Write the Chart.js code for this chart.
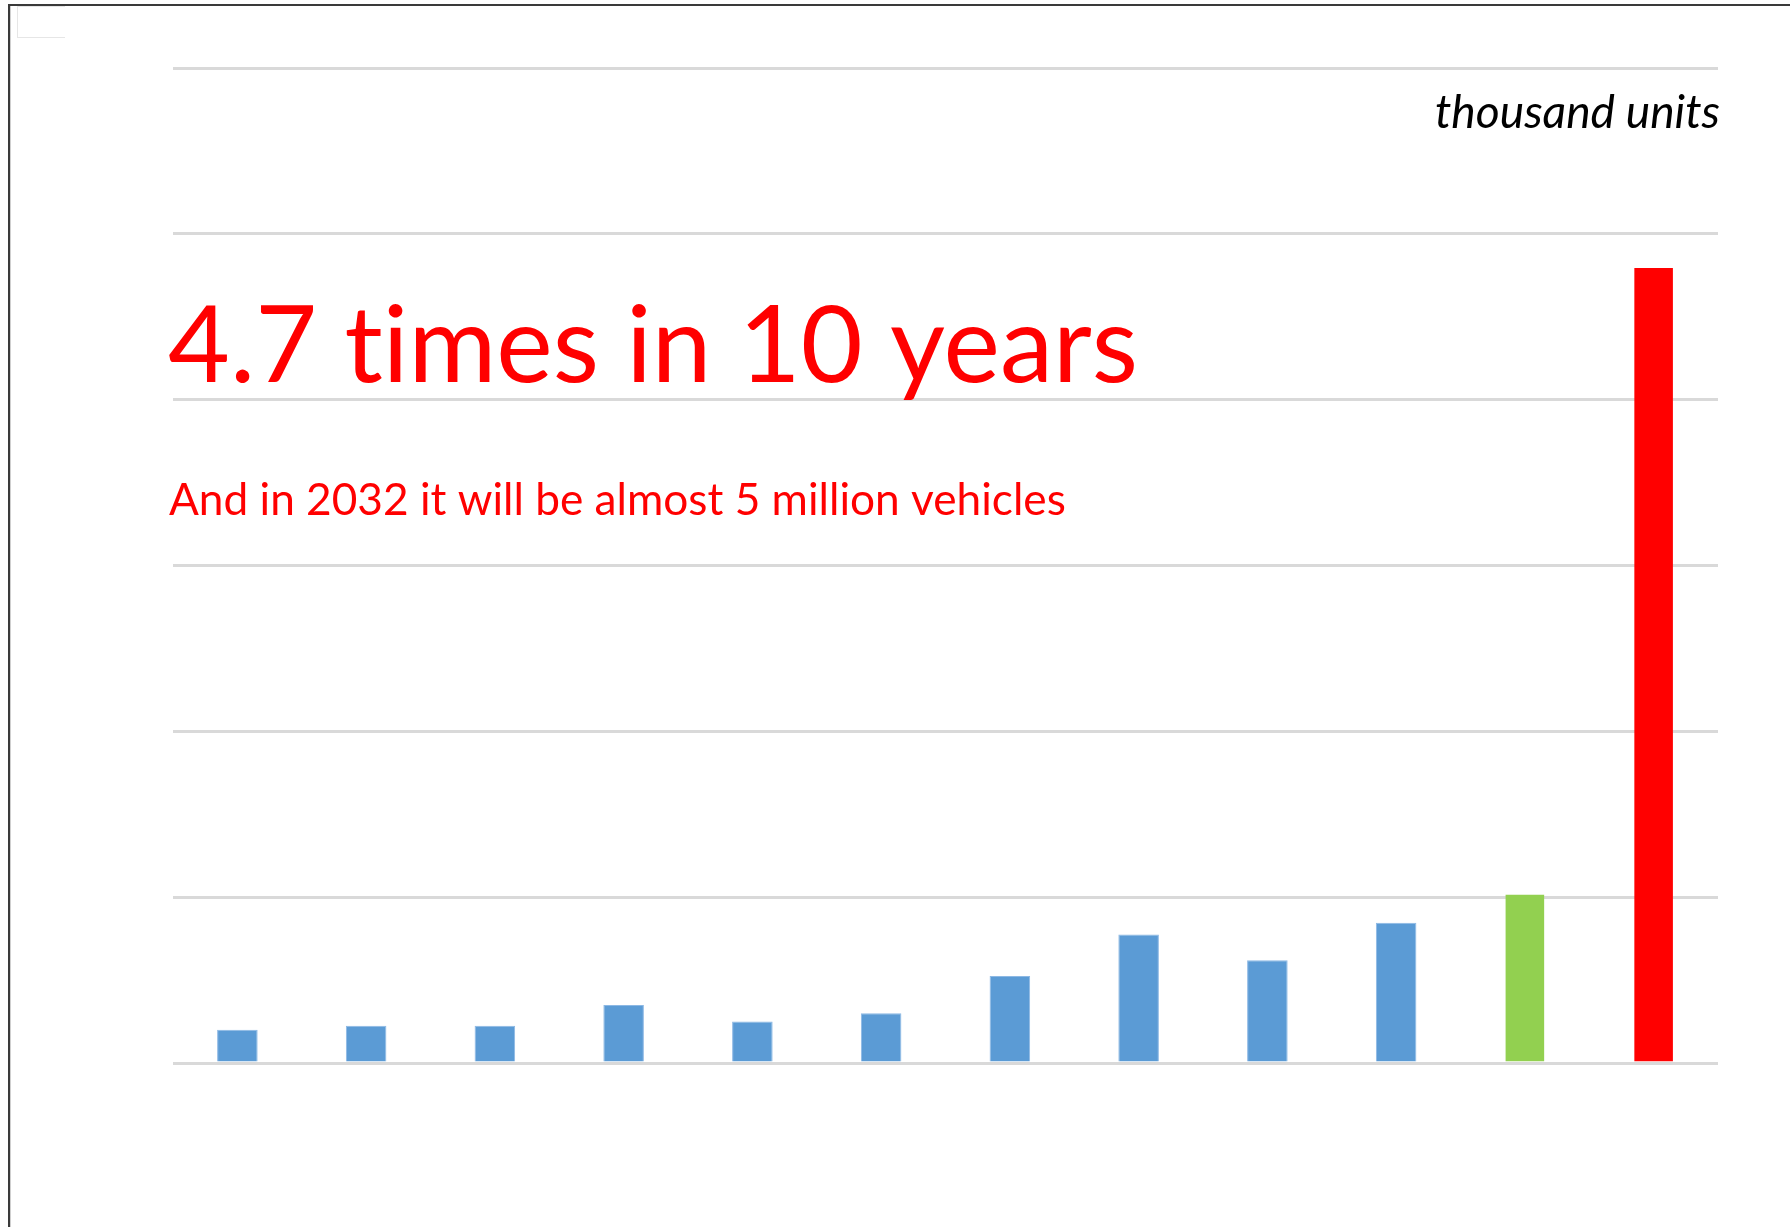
<!DOCTYPE html>
<html>
<head>
<meta charset="utf-8">
<title>Sales growth</title>
<script src="https://cdn.jsdelivr.net/npm/chart.js@4"></script>
<style>
  html, body { margin: 0; padding: 0; background: #fff; }
  #wrap { position: relative; width: 1790px; height: 1227px; overflow: hidden; }
  /* frame lines along the top and left edge */
  #frame {
    position: absolute; left: 8px; top: 4px; right: 0; bottom: 0;
    border-top: 2px solid #3a3a3a; border-left: 2px solid #3a3a3a;
    box-shadow: inset 1px 0 0 #cfcfcf;
  }
  #tab {
    position: absolute; left: 17px; top: 6px; width: 47px; height: 30px;
    border: 1px solid #e6e6e6; border-right: none;
  }
  canvas { position: absolute; left: 0; top: 0; }
</style>
</head>
<body>
<div id="wrap">
  <div id="frame"></div>
  <div id="tab"></div>
  <canvas id="myChart" width="1790" height="1227"></canvas>
</div>
<script>
// Years on the category axis (labels are not shown)
const years = ["2012", "2013", "2014", "2015", "2016", "2017", "2018", "2019", "2020", "2021", "2022", "2032"];

// Sales, thousand units
const sales = [200, 225, 225, 350, 250, 300, 525, 775, 620, 845, 1020, 4800];

// Value axis ticks
const yTicks = [0, 1000, 2000, 3000, 4000, 5000, 6000];

const titleText = "4.7 times in 10 years";
const subtitleText = "And in 2032 it will be almost 5 million vehicles";
const unitText = "thousand units";

// Current year in green, the forecast in red, the rest in blue
const barColors = years.map(y => y === "2022" ? "#92d050" : y === "2032" ? "#ff0000" : "#5b9bd5");
const barEdges = years.map(y => y === "2022" || y === "2032" ? "rgba(0,0,0,0)" : "#8cb8e4");

const FONT = "Lato, 'Open Sans', sans-serif";

// Size a font so that the text spans the given width
function fitSize(ctx, text, style, width) {
  ctx.font = `${style} 100px ${FONT}`;
  return 100 * width / ctx.measureText(text).width;
}

const captions = {
  id: "captions",
  afterDraw(chart) {
    const ctx = chart.ctx;
    const area = chart.chartArea;
    ctx.save();
    ctx.textBaseline = "alphabetic";
    // no "ti" ligature
    if ("textRendering" in ctx) ctx.textRendering = "optimizeSpeed";

    ctx.fillStyle = "#ff0000";
    ctx.textAlign = "left";
    let size = fitSize(ctx, titleText, "normal", 970);
    ctx.font = `normal ${size}px ${FONT}`;
    ctx.fillText(titleText, area.left - 5, 382);

    size = fitSize(ctx, subtitleText, "normal", 897);
    ctx.font = `normal ${size}px ${FONT}`;
    ctx.fillText(subtitleText, area.left - 4, 515);

    ctx.fillStyle = "#000";
    ctx.textAlign = "right";
    size = fitSize(ctx, unitText, "italic", 285);
    ctx.font = `italic ${size}px ${FONT}`;
    ctx.fillText(unitText, area.right + 2, 128);
    ctx.restore();
  }
};

const ctx = document.getElementById("myChart").getContext("2d");

const myChart = new Chart(ctx, {
  type: "bar",
  data: {
    labels: years,
    datasets: [
      {
        label: unitText,
        data: sales,
        backgroundColor: barColors,
        borderColor: barEdges,
        borderWidth: 1,
        borderSkipped: "bottom",
        categoryPercentage: 1,
        barPercentage: 0.315,
      },
    ],
  },
  options: {
    responsive: false,
    animation: false,
    layout: {
      padding: { left: 173, right: 72, top: 68, bottom: 164 },
    },
    plugins: {
      legend: { display: false },
      tooltip: { enabled: false },
    },
    scales: {
      x: {
        ticks: { display: false },
        grid: { display: false, drawTicks: false },
        border: { display: false },
      },
      y: {
        min: yTicks[0],
        max: yTicks[yTicks.length - 1],
        afterBuildTicks: axis => { axis.ticks = yTicks.map(v => ({ value: v })); },
        ticks: { display: false },
        grid: { color: "#d9d9d9", lineWidth: 3, drawTicks: false },
        border: { display: false },
      },
    },
  },
  plugins: [captions],
});
</script>
</body>
</html>
